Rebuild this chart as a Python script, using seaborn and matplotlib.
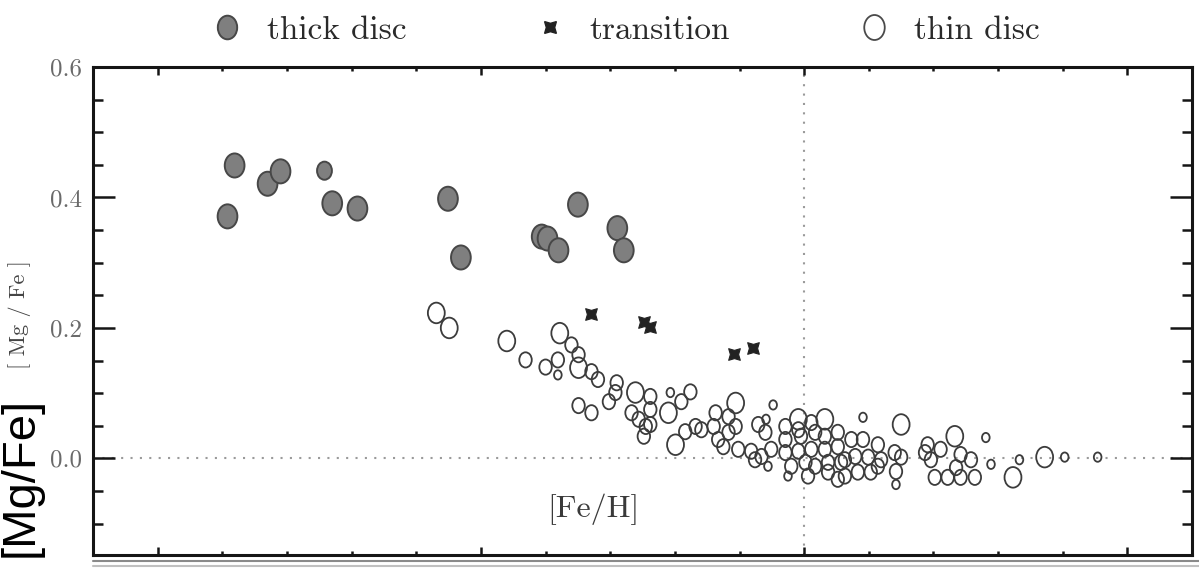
import matplotlib
matplotlib.use("Agg")
import matplotlib.pyplot as plt
import seaborn as sns
import pandas as pd
from matplotlib.path import Path
from matplotlib.transforms import Affine2D
from matplotlib.lines import Line2D
from matplotlib.ticker import MultipleLocator

# thick disc stars
thick_feh = [-0.881, -0.892, -0.830, -0.810, -0.742, -0.730, -0.691, -0.551, -0.531,
             -0.406, -0.397, -0.380, -0.350, -0.289, -0.279]
thick_mgfe = [0.449, 0.371, 0.421, 0.440, 0.441, 0.391, 0.383, 0.398, 0.308,
              0.340, 0.337, 0.319, 0.389, 0.353, 0.319]
thick_r = [3, 3, 3, 3, 2, 3, 3, 3, 3, 3, 3, 3, 3, 3, 3]

# transition stars
trans_feh = [-0.330, -0.248, -0.239, -0.108, -0.079]
trans_mgfe = [0.221, 0.209, 0.202, 0.160, 0.169]

# thin disc stars
thin_feh = [-0.569, -0.549, -0.460, -0.431, -0.400, -0.381, -0.381, -0.378, -0.360, -0.349,
            -0.349, -0.329, -0.319, -0.349, -0.329, -0.302, -0.290, -0.292, -0.261, -0.267,
            -0.256, -0.245, -0.248, -0.238, -0.238, -0.238, -0.210, -0.207, -0.190, -0.176,
            -0.199, -0.184, -0.168, -0.159, -0.140, -0.137, -0.133, -0.117, -0.106, -0.117,
            -0.106, -0.125, -0.102, -0.082, -0.071, -0.059, -0.060, -0.048, -0.051, -0.076,
            -0.056, -0.066, -0.029, -0.029, -0.009, -0.009, -0.005, 0.011, 0.032, 0.017,
            0.032, -0.029, -0.009, 0.011, 0.032, 0.052, 0.052, 0.073, -0.020, 0.002,
            0.017, 0.037, 0.057, -0.025, 0.006, 0.037, 0.063, 0.052, 0.063, 0.091,
            0.091, 0.114, 0.079, 0.099, 0.119, 0.140, 0.150, 0.150, 0.083, 0.103,
            0.142, 0.142, 0.114, 0.187, 0.191, 0.211, 0.196, 0.233, 0.242, 0.258,
            0.235, 0.202, 0.222, 0.242, 0.264, 0.281, 0.289, 0.333, 0.323, 0.372,
            0.403, 0.454]
thin_mgfe = [0.223, 0.200, 0.180, 0.151, 0.140, 0.151, 0.128, 0.192, 0.174, 0.159,
             0.139, 0.133, 0.121, 0.081, 0.070, 0.087, 0.116, 0.101, 0.101, 0.070,
             0.060, 0.049, 0.034, 0.095, 0.075, 0.052, 0.070, 0.101, 0.087, 0.102,
             0.021, 0.041, 0.049, 0.044, 0.049, 0.070, 0.029, 0.064, 0.085, 0.040,
             0.049, 0.018, 0.014, 0.011, 0.052, 0.060, 0.040, 0.082, 0.014, -0.002,
             -0.012, 0.003, 0.049, 0.029, 0.060, 0.044, 0.034, 0.055, 0.060, 0.040,
             0.034, 0.009, 0.011, 0.014, 0.014, 0.040, 0.018, 0.029, -0.012, -0.006,
             -0.012, -0.006, -0.006, -0.027, -0.027, -0.021, -0.027, -0.032, -0.002, 0.063,
             0.029, 0.021, 0.003, 0.002, -0.002, 0.009, 0.002, 0.052, -0.021, -0.021,
             -0.020, -0.040, -0.012, 0.009, 0.021, 0.014, -0.002, 0.034, 0.006, -0.002,
             -0.014, -0.029, -0.029, -0.029, -0.029, 0.032, -0.009, -0.002, -0.029, 0.002,
             0.002, 0.002]
thin_r = [3, 3, 3, 2, 2, 2, 1, 3, 2, 2,
          3, 2, 2, 2, 2, 2, 2, 2, 3, 2,
          2, 2, 2, 2, 2, 2, 3, 1, 2, 2,
          3, 2, 2, 2, 2, 2, 2, 2, 3, 2,
          2, 2, 2, 2, 2, 1, 2, 1, 2, 2,
          1, 2, 2, 2, 3, 2, 2, 2, 3, 2,
          2, 2, 2, 2, 2, 2, 2, 2, 2, 2,
          2, 2, 2, 1, 2, 2, 2, 2, 2, 1,
          2, 2, 2, 2, 2, 2, 2, 3, 2, 2,
          2, 1, 2, 2, 2, 2, 2, 3, 2, 2,
          2, 2, 2, 2, 2, 1, 1, 1, 3, 3,
          1, 1]

y_ticks = [0.0, 0.2, 0.4, 0.6]
y_ticklabels = ["0.0", "0.2", "0.4", "0.6"]

thick = pd.DataFrame({"feh": thick_feh, "mgfe": thick_mgfe, "r": thick_r})
trans = pd.DataFrame({"feh": trans_feh, "mgfe": trans_mgfe})
thin = pd.DataFrame({"feh": thin_feh, "mgfe": thin_mgfe, "r": thin_r})

sns.set_theme(style="white")
plt.rcParams["font.family"] = ["cmr10", "DejaVu Serif"]

# slightly squashed circle, like the scanned figure
ell = Path.unit_circle().transformed(Affine2D().scale(0.82, 1.0))
star = (4, 1, 45)

fig = plt.figure(figsize=(11.99, 5.68), dpi=100)
ax = fig.add_axes([0.0776, 0.0229, 0.9166, 0.8592])

ax.axhline(0, color="#9a9a9a", lw=1.5, ls=(0, (1, 3.5)), zorder=0)
ax.axvline(0, color="#9a9a9a", lw=1.5, ls=(0, (1, 3.5)), zorder=0)

sns.scatterplot(data=thin, x="feh", y="mgfe", size="r", sizes={1: 45, 2: 120, 3: 220},
                marker=ell, ax=ax, legend=False, zorder=2)
pts = ax.collections[-1]
pts.set_facecolor("none")
pts.set_edgecolor("#3c3c3c")
pts.set_linewidth(1.3)

sns.scatterplot(data=thick, x="feh", y="mgfe", size="r", sizes={2: 170, 3: 300},
                marker=ell, ax=ax, legend=False, zorder=3)
pts = ax.collections[-1]
pts.set_facecolor("#7f7f7f")
pts.set_edgecolor("#474747")
pts.set_linewidth(1.4)

sns.scatterplot(data=trans, x="feh", y="mgfe", marker=star, s=140, color="#222222",
                edgecolor="#222222", linewidth=0.8, ax=ax, legend=False, zorder=4)

ax.set_xlim(-1.1, 0.6)
ax.set_ylim(-0.148, 0.6)
ax.xaxis.set_major_locator(MultipleLocator(0.5))
ax.xaxis.set_minor_locator(MultipleLocator(0.1))
ax.set_yticks(y_ticks)
ax.set_yticklabels(y_ticklabels)
ax.yaxis.set_minor_locator(MultipleLocator(0.05))
ax.set_xticklabels([])
ax.set_xlabel("")
ax.set_ylabel("")

for s in ax.spines.values():
    s.set_linewidth(2.2)
    s.set_color("#151515")
ax.tick_params(axis="both", which="both", direction="in", top=True, right=True,
               bottom=True, left=True, color="#151515", width=1.8)
ax.tick_params(axis="y", which="major", length=15.5, pad=8, labelsize=18, labelcolor="#6a6a6a")
ax.tick_params(axis="y", which="minor", length=7)
ax.tick_params(axis="x", which="major", length=6)
ax.tick_params(axis="x", which="minor", length=3)

ax.text(-0.326, -0.078, "[Fe/H]", ha="center", va="center", fontsize=23, color="#3a3a3a")

handles = [
    Line2D([], [], marker=ell, ls="none", ms=17, mfc="#7f7f7f", mec="#474747", mew=1.4),
    Line2D([], [], marker=star, ls="none", ms=12, color="#222222"),
    Line2D([], [], marker=ell, ls="none", ms=18, mfc="none", mec="#4a4a4a", mew=1.3),
]
fig.legend(handles, ["thick disc", "transition", "thin disc"], loc="center",
           bbox_to_anchor=(0.521, 0.947), ncol=3, frameon=False, fontsize=24,
           handlelength=1.0, handletextpad=0.7, columnspacing=3.8, labelcolor="#2a2a2a")

# original small axis title and the overlaid one
fig.text(0.0165, 0.447, "[ Mg / Fe ]", rotation=90, ha="center", va="center",
         fontsize=16, color="#444444")
fig.text(0.017, 0.301, "[Mg/Fe]", rotation=90, ha="center", va="top",
         fontsize=34, family=["Liberation Sans", "DejaVu Sans"], color="black")

# scan edge lines under the frame
fig.add_artist(Line2D([0.0776, 1.0], [1 - 561 / 568, 1 - 561 / 568], color="#8a8a8a", lw=1.5))
fig.add_artist(Line2D([0.0776, 1.0], [1 - 566 / 568, 1 - 566 / 568], color="#c0c0c0", lw=1.5))

fig.savefig("out.png", dpi=100)
